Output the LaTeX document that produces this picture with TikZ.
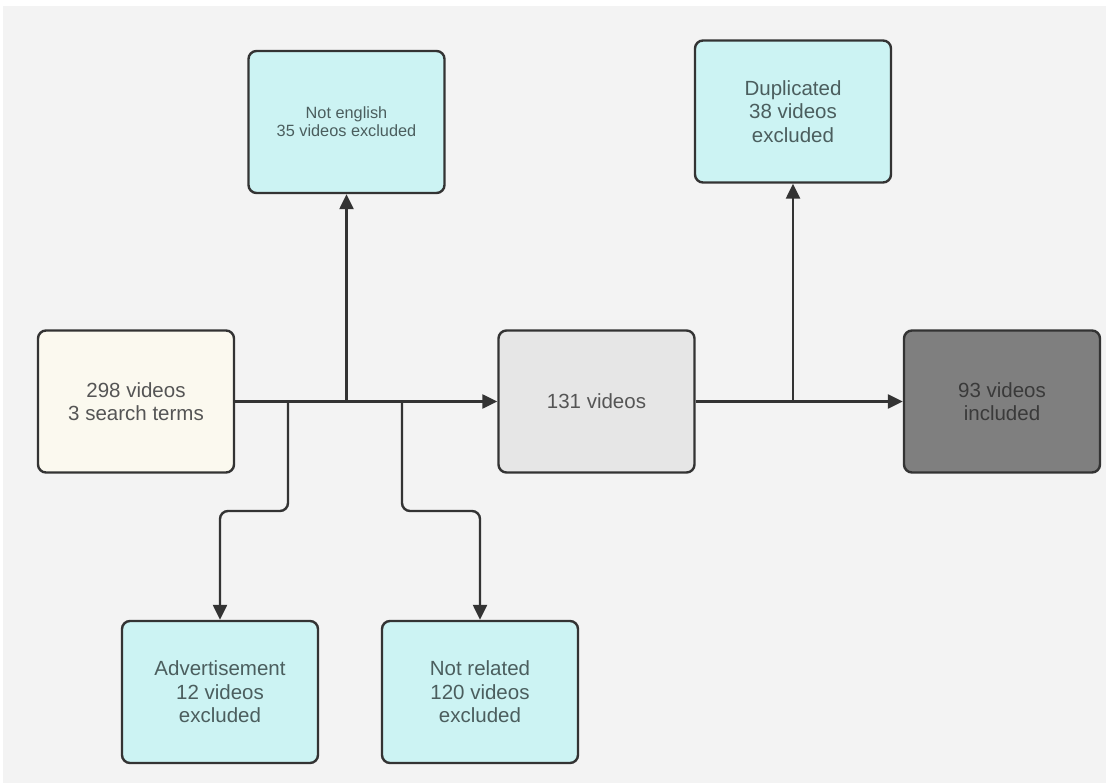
\documentclass[tikz,border=0pt]{standalone}
\usepackage{fontspec}
\setmainfont{Liberation Sans}
\usetikzlibrary{arrows.meta}
\definecolor{bg}{HTML}{F3F3F3}
\definecolor{edge}{HTML}{333333}
\definecolor{cyanf}{HTML}{CCF3F3}
\definecolor{cyantext}{HTML}{4B5E5E}
\definecolor{srcf}{HTML}{FBF9EF}
\definecolor{srctext}{HTML}{555555}
\definecolor{midf}{HTML}{E6E6E6}
\definecolor{finf}{HTML}{7F7F7F}
\definecolor{fintext}{HTML}{3A3A3A}
\begin{document}
\begin{tikzpicture}[x=1pt,y=-1pt,
  box/.style={draw=edge, line width=2.4pt, rounded corners=8pt, minimum width=196pt, minimum height=142pt, align=center, inner sep=0pt, font=\fontsize{20.5}{23.5}\selectfont},
  excl/.style={box, fill=cyanf, text=cyantext},
  conn/.style={draw=edge, line width=2.4pt, rounded corners=8pt, -{Triangle[length=15pt,width=14pt]}}]
\useasboundingbox (0,0) rectangle (1106,783);
\fill[white] (0,0) rectangle (1106,783);
\fill[bg] (3,6) rectangle (1106,783);
\node[box, fill=srcf, text=srctext] (src) at (136,401.5) {298 videos\\3 search terms};
\node[box, fill=midf, text=srctext] (mid) at (596.5,401.5) {131 videos};
\node[box, fill=finf, text=fintext] (fin) at (1002,401.5) {93 videos\\included};
\node[excl, font=\fontsize{16.3}{18}\selectfont] (ne) at (346.5,122) {Not english\\35 videos excluded};
\node[excl] (dup) at (793,111.5) {Duplicated\\38 videos\\excluded};
\node[excl] (ad) at (220,692) {Advertisement\\12 videos\\excluded};
\node[excl] (nr) at (480,692) {Not related\\120 videos\\excluded};
\coordinate (j1) at (346.5,401.5);
\coordinate (j2) at (288,401.5);
\coordinate (j3) at (402,401.5);
\coordinate (j4) at (793,401.5);
\draw[conn] (src.east) -- (mid.west);
\draw[conn] (j1) -- (ne.south);
\draw[conn] (j2) -- ++(0,109.5) -| (ad.north);
\draw[conn] (j3) -- ++(0,109.5) -| (nr.north);
\draw[conn] (mid.east) -- (fin.west);
\draw[conn] (j4) -- (dup.south);
\end{tikzpicture}
\end{document}
